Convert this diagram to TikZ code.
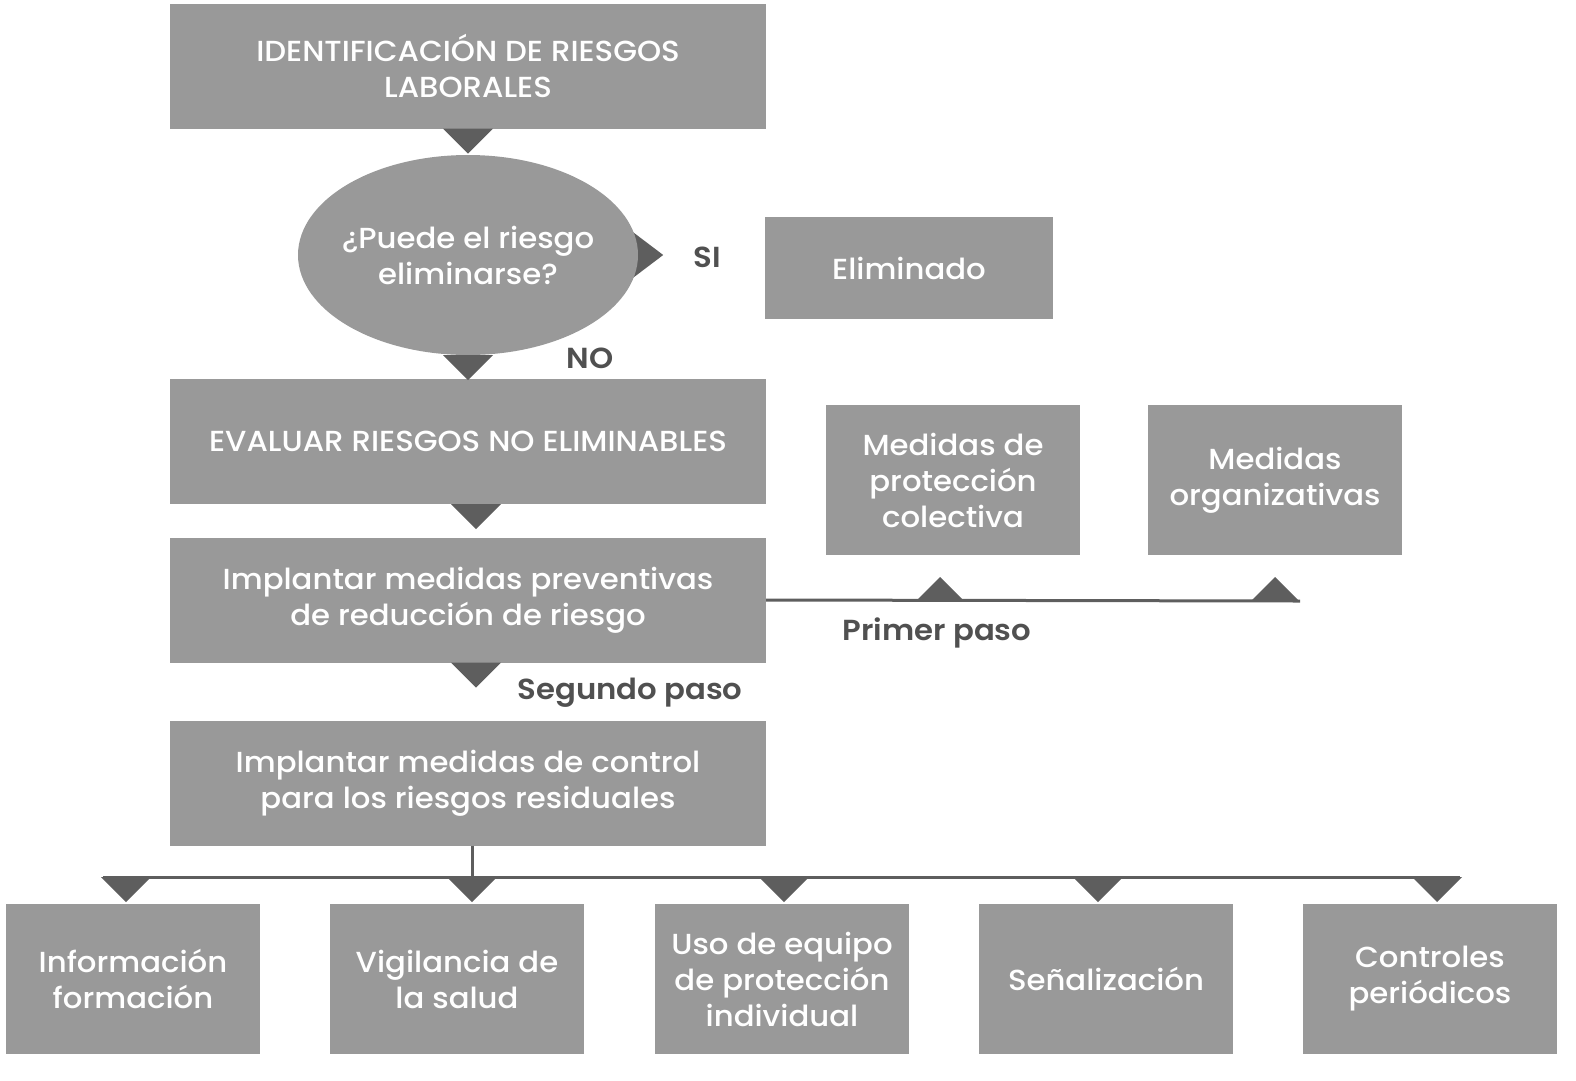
\documentclass[tikz,border=0pt]{standalone}
\usepackage{fontspec}
\setmainfont{Poppins}[UprightFont=* Medium, BoldFont=* SemiBold, FakeStretch=1.06]
\usepackage{tikz}
\usetikzlibrary{shapes.geometric,calc,backgrounds}
\definecolor{grisCaja}{HTML}{999999}
\definecolor{grisPunta}{HTML}{5E5E5E}
\definecolor{grisTexto}{HTML}{505050}
\newcommand{\bajada}[1]{\fill[punta] ($#1+(-25,0)$) -- ($#1+(25,0)$) -- ($#1+(0,25)$) -- cycle;}
\newcommand{\subida}[1]{\fill[punta] ($#1+(-24,0)$) -- ($#1+(24,0)$) -- ($#1+(0,-24)$) -- cycle;}
\begin{document}
\begin{tikzpicture}[x=1pt, y=-1pt,
    main/.style = {rectangle, fill=grisCaja, text=white, align=center, inner sep=0, font=\fontsize{29}{36}\selectfont},
    ancha/.style = {main, minimum width=596, minimum height=125},
    chica/.style = {main, minimum width=254, minimum height=150},
    elipse/.style = {main, ellipse, inner xsep=-30, inner ysep=0, minimum width=340, minimum height=200},
    rotulo/.style = {text=grisTexto, font=\fontsize{29}{36}\selectfont\bfseries},
    punta/.style = {fill=grisPunta},
    linea/.style = {draw=grisPunta, line width=3}]
        \useasboundingbox (0,0) rectangle (1576,1080);
        \node[ancha](id) at (468,66){IDENTIFICACIÓN DE RIESGOS\\LABORALES};
        \node[elipse](preg) at (468,255){¿Puede el riesgo\\eliminarse?};
        \node[main, minimum width=288, minimum height=102](elim) at (909,268){Eliminado};
        \node[ancha](eval) at (468,441.5){EVALUAR RIESGOS NO ELIMINABLES};
        \node[ancha](prev) at (468,600){Implantar medidas preventivas\\de reducción de riesgo};
        \node[ancha](ctrl) at (468,783){Implantar medidas de control\\para los riesgos residuales};
        \node[chica](col) at (953,480){Medidas de\\protección\\colectiva};
        \node[chica](org) at (1275,480){Medidas\\organizativas};
        \node[chica](inf) at (133,979){Información\\formación};
        \node[chica](vig) at (457,979){Vigilancia de\\la salud};
        \node[chica](uso) at (782,979){Uso de equipo\\de protección\\individual};
        \node[chica](sen) at (1106,979){Señalización};
        \node[chica](con) at (1430,979){Controles\\periódicos};

        \node[rotulo](si) at (707,257){SI};
        \node[rotulo](no) at (590,358){NO};
        \node[rotulo](primero) at (937,633){Primer paso};
        \node[rotulo](segundo) at (630,693){Segundo paso};

        \begin{pgfonlayer}{background}
        \fill[punta] ($(preg.east)+(-12,-28)$) -- ($(preg.east)+(-12,28)$) -- ($(preg.east)+(25,0)$) -- cycle;
        \end{pgfonlayer}
        \bajada{(id.south)}
        \bajada{(preg.south)}
        \bajada{($(eval.south)+(8,0)$)}
        \bajada{($(prev.south)+(8,0)$)}

        \coordinate (fin) at (1300,601);
        \draw[linea] (prev.east) -- (fin);
        \subida{($(col.south |- fin)+(-13,0)$)}
        \subida{(org.south |- fin)}

        \coordinate (busL) at (103,877);
        \coordinate (busR) at (1460,877);
        \draw[linea] ($(ctrl.south)+(4,0)$) -- ($(ctrl.south |- busL)+(4,0)$);
        \draw[linea] (busL) -- (busR);
        \foreach \b/\dx in {inf/-7, vig/15, uso/2, sen/-8, con/7}{
            \bajada{($(\b.north |- busL)+(\dx,0)$)}
        }
    \end{tikzpicture}
\end{document}
